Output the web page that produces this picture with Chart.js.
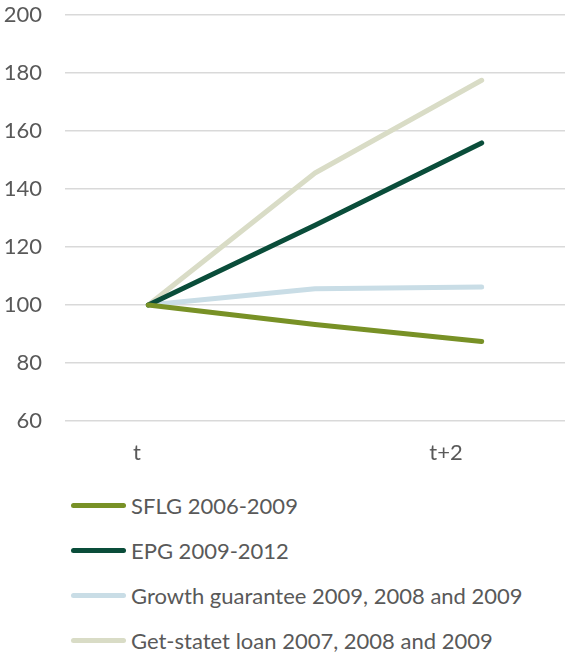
<!DOCTYPE html>
<html>
<head>
<meta charset="utf-8">
<script src="https://cdn.jsdelivr.net/npm/chart.js@4"></script>
<style>
  html, body { margin: 0; padding: 0; background: #fff; }
  #wrap { position: relative; width: 565px; height: 653px; }
  #chartBox { position: absolute; left: 0; top: 0; width: 565px; height: 470px; }
  #legend { position: absolute; left: 71px; top: 483px; font-family: Lato, sans-serif; font-size: 22px; color: #595959; }
  .item { position: relative; height: 45px; line-height: 45px; white-space: nowrap; }
  .swatch { position: absolute; left: 0; top: 20px; width: 55px; height: 5px; border-radius: 3px; }
  .txt { position: absolute; left: 60px; top: 0; }
</style>
</head>
<body>
<div id="wrap">
  <div id="chartBox"><canvas id="c"></canvas></div>
  <div id="legend"></div>
</div>
<script>
// ---- data ----
const categories = ['t', 't+1', 't+2'];
const tickLabels = ['t', '', 't+2'];
const seriesNames = ['SFLG 2006-2009', 'EPG 2009-2012', 'Growth guarantee 2009, 2008 and 2009', 'Get-statet loan 2007, 2008 and 2009'];
const sflg = [100, 93.3, 87.4];
const epg = [100, 127.5, 155.9];
const growth = [100, 105.6, 106.2];
const getStatet = [100, 145.5, 177.5];
const yTicks = [60, 80, 100, 120, 140, 160, 180, 200];

const colors = ['#789126', '#0a4d3a', '#c9dde6', '#d9dcc6'];
const values = [sflg, epg, growth, getStatet];

const datasets = values.map((v, i) => ({
  label: seriesNames[i],
  data: v,
  borderColor: colors[i],
  backgroundColor: colors[i],
  borderWidth: 5,
  borderCapStyle: 'round',
  borderJoinStyle: 'round',
  pointRadius: 0,
  tension: 0,
  order: i + 1,
  xAxisID: 'x',
  yAxisID: 'y'
}));

const font = { family: 'Lato, sans-serif', size: 22 };

new Chart(document.getElementById('c'), {
  type: 'line',
  data: { labels: categories, datasets },
  options: {
    responsive: true,
    maintainAspectRatio: false,
    animation: false,
    layout: { padding: { left: 0, right: 0, top: 15, bottom: 0 } },
    plugins: { legend: { display: false }, tooltip: { enabled: false } },
    scales: {
      x: {
        type: 'category',
        display: false,
        offset: true
      },
      x2: {
        type: 'linear',
        position: 'bottom',
        min: -0.466,
        max: 2.770,
        afterBuildTicks: (axis) => { axis.ticks = [0, 1, 2].map(v => ({ value: v })); },
        afterFit: (axis) => { axis.paddingLeft = 0; axis.paddingRight = 0; axis.height = 49; },
        grid: { display: false, drawTicks: false },
        border: { display: false },
        ticks: {
          font, color: '#595959', padding: 19, autoSkip: false, maxRotation: 0,
          callback: (v) => tickLabels[v] ?? ''
        }
      },
      y: {
        min: 60, max: 200,
        afterBuildTicks: (axis) => { axis.ticks = yTicks.map(v => ({ value: v })); },
        afterFit: (axis) => { axis.paddingTop = 0; axis.paddingBottom = 0; axis.width = 65; },
        grid: { color: '#d9d9d9', lineWidth: 1.5, drawTicks: true, tickLength: 23, tickColor: 'rgba(0,0,0,0)' },
        border: { display: false },
        ticks: { font, color: '#595959', padding: 0 }
      }
    }
  }
});

const legend = document.getElementById('legend');
seriesNames.forEach((name, i) => {
  const d = document.createElement('div');
  d.className = 'item';
  d.innerHTML = '<span class="swatch" style="background:' + colors[i] + '"></span><span class="txt"></span>';
  d.querySelector('.txt').textContent = name;
  legend.appendChild(d);
});
</script>
</body>
</html>
